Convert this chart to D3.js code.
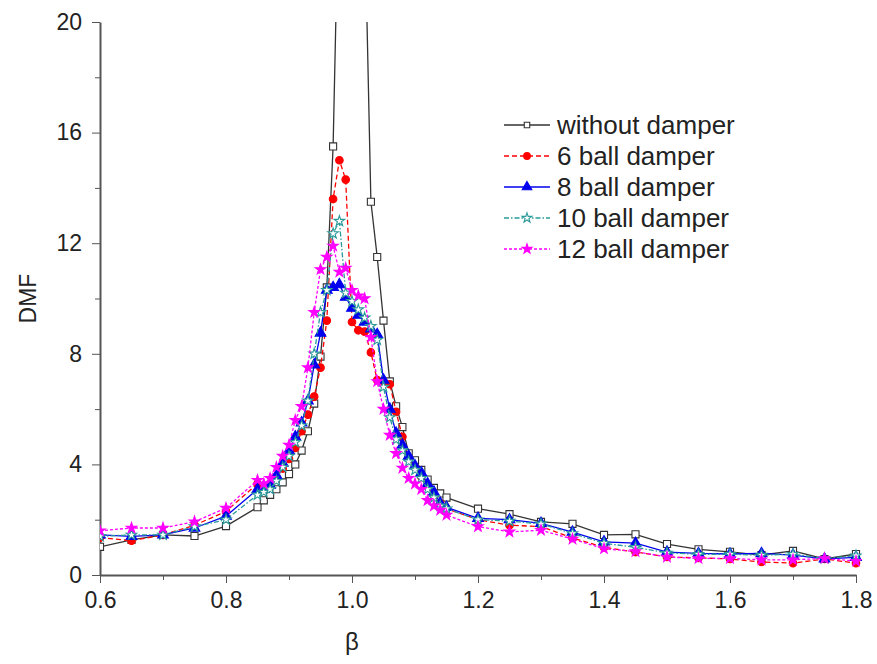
<!DOCTYPE html>
<html lang="en">
<head>
<meta charset="utf-8">
<title>DMF vs beta</title>
<style>
  body { margin: 0; background: #fff; }
  svg text { font-family: "Liberation Sans", Arial, sans-serif; fill: #222; }
  .axis path, .axis line { stroke: #555; }
</style>
</head>
<body>
<div id="chart"></div>
<script src="https://d3js.org/d3.v7.min.js"></script>
<script>
// frequency ratio values
var beta = [0.6, 0.65, 0.7, 0.75, 0.8, 0.85, 0.86, 0.87, 0.88, 0.89, 0.9, 0.91, 0.92, 0.93, 0.94, 0.95,
  0.96, 0.97, 0.98, 0.99, 1.0, 1.01, 1.02, 1.03, 1.04, 1.05, 1.06, 1.07, 1.08, 1.09, 1.1, 1.11, 1.12,
  1.13, 1.14, 1.15, 1.2, 1.25, 1.3, 1.35, 1.4, 1.45, 1.5, 1.55, 1.6, 1.65, 1.7, 1.75, 1.8];

var withoutDamper = [1.02, 1.27, 1.45, 1.41, 1.77, 2.45, 2.7, 2.9, 3.1, 3.35, 3.65, 4.0, 4.5, 5.2, 6.2, 7.9,
  10.4, 15.5, 26, 38, 45, 34, 24, 13.5, 11.5, 9.2, 7.0, 6.1, 5.35, 4.4, 4.15, 3.8, 3.45,
  3.15, 2.95, 2.8, 2.4, 2.2, 1.92, 1.85, 1.45, 1.47, 1.12, 0.93, 0.84, 0.72, 0.87, 0.58, 0.76];

var ball6 = [1.35, 1.24, 1.45, 1.8, 2.3, 3.3, 3.2, 3.3, 3.55, 3.85, 4.2, 4.6, 5.2, 5.8, 6.45, 7.5,
  9.2, 13.6, 15.0, 14.3, 9.15, 8.85, 8.8, 8.05, 7.05, 7.0, 6.9, 5.9, 5.0, 4.2, 3.9, 3.55, 3.2,
  2.9, 2.6, 2.4, 2.0, 1.8, 1.75, 1.34, 1.0, 0.83, 0.65, 0.62, 0.58, 0.47, 0.43, 0.58, 0.43];

var ball8 = [1.45, 1.4, 1.45, 1.7, 2.13, 3.1, 3.1, 3.25, 3.6, 4.05, 4.5, 5.0, 5.5, 6.3, 7.6, 8.75,
  10.3, 10.4, 10.5, 10.05, 9.65, 9.4, 9.15, 8.9, 8.7, 7.05, 6.0, 5.13, 4.7, 4.3, 3.95, 3.7, 3.3,
  3.0, 2.6, 2.45, 2.05, 2.0, 1.87, 1.55, 1.2, 1.15, 0.83, 0.78, 0.76, 0.78, 0.72, 0.58, 0.64];

var ball10 = [1.4, 1.45, 1.45, 1.75, 2.0, 2.9, 3.0, 3.1, 3.4, 3.9, 4.3, 4.8, 5.4, 6.3, 8.0, 9.5,
  10.3, 12.35, 12.8, 10.2, 9.9, 9.6, 9.3, 9.0, 8.5, 6.8, 5.7, 4.9, 4.5, 4.1, 3.8, 3.5, 3.1,
  2.8, 2.5, 2.4, 2.0, 1.95, 1.85, 1.5, 1.15, 1.0, 0.8, 0.75, 0.75, 0.72, 0.75, 0.6, 0.7];

var ball12 = [1.6, 1.7, 1.7, 1.93, 2.42, 3.43, 3.3, 3.5, 3.9, 4.3, 4.7, 5.6, 6.1, 7.5, 9.5, 11.05,
  11.5, 11.9, 10.96, 11.1, 10.3, 10.1, 10.0, 8.6, 7.0, 6.0, 5.06, 4.4, 3.87, 3.5, 3.3, 3.1, 2.7,
  2.5, 2.35, 2.17, 1.75, 1.56, 1.62, 1.3, 0.95, 0.85, 0.65, 0.6, 0.6, 0.55, 0.55, 0.6, 0.5];

var seriesNames = ['without damper', '6 ball damper', '8 ball damper', '10 ball damper', '12 ball damper'];
var xTicks = [0.6, 0.8, 1.0, 1.2, 1.4, 1.6, 1.8];
var yTicks = [0, 4, 8, 12, 16, 20];

var width = 877, height = 664;
var margin = {top: 22, right: 21, bottom: 89, left: 100};

var series = [
  {name: seriesNames[0], values: withoutDamper, color: '#333', dash: null, marker: 'square', fill: '#fff'},
  {name: seriesNames[1], values: ball6, color: '#f00', dash: '5,3', marker: 'circle', fill: '#f00'},
  {name: seriesNames[2], values: ball8, color: '#0000ee', dash: null, marker: 'triangle', fill: '#0000ee'},
  {name: seriesNames[3], values: ball10, color: '#2a9a9a', dash: '5,2,1.5,2', marker: 'star', fill: '#fff'},
  {name: seriesNames[4], values: ball12, color: '#ff00ff', dash: '3,2', marker: 'star', fill: '#ff00ff'}
];

function sym(type, size) { return d3.symbol().type(type).size(size); }
var symbols = {
  square: sym(d3.symbolSquare, 50),
  circle: sym(d3.symbolCircle, 45),
  triangle: sym(d3.symbolTriangle, 50),
  star: sym(d3.symbolStar, 34)
};
var legendSymbols = {
  square: sym(d3.symbolSquare, 30),
  circle: sym(d3.symbolCircle, 35),
  triangle: sym(d3.symbolTriangle, 40),
  star: sym(d3.symbolStar, 30)
};

var svg = d3.select('#chart').append('svg')
  .attr('width', width)
  .attr('height', height);

var x = d3.scaleLinear().domain([0.6, 1.8]).range([margin.left, width - margin.right]);
var y = d3.scaleLinear().domain([0, 20]).range([height - margin.bottom, margin.top]);

svg.append('clipPath').attr('id', 'plot-clip')
  .append('rect')
  .attr('x', margin.left)
  .attr('y', margin.top)
  .attr('width', width - margin.left - margin.right + 6)
  .attr('height', height - margin.top - margin.bottom + 6);

// axes: minor ticks first, then labelled major ticks
svg.append('g')
  .attr('class', 'axis')
  .attr('transform', 'translate(0,' + (height - margin.bottom) + ')')
  .call(d3.axisBottom(x).tickValues(d3.range(0.7, 1.8, 0.2)).tickSize(5).tickFormat(''))
  .call(function(g) { g.select('.domain').remove(); });

svg.append('g')
  .attr('class', 'axis')
  .attr('transform', 'translate(' + margin.left + ',0)')
  .call(d3.axisLeft(y).tickValues([2, 6, 10, 14, 18]).tickSize(5).tickFormat(''))
  .call(function(g) { g.select('.domain').remove(); });

var xAxis = svg.append('g')
  .attr('class', 'axis')
  .attr('transform', 'translate(0,' + (height - margin.bottom) + ')')
  .call(d3.axisBottom(x).tickValues(xTicks).tickSize(8).tickSizeOuter(0).tickPadding(9)
    .tickFormat(d3.format('.1f')));
xAxis.select('.domain').attr('stroke-width', 2);
xAxis.selectAll('text').style('font-size', '23px');

var yAxis = svg.append('g')
  .attr('class', 'axis')
  .attr('transform', 'translate(' + margin.left + ',0)')
  .call(d3.axisLeft(y).tickValues(yTicks).tickSize(8).tickSizeOuter(0).tickPadding(10));
yAxis.select('.domain').attr('stroke-width', 2);
yAxis.selectAll('text').style('font-size', '23px');

svg.append('text')
  .attr('x', x(1.0))
  .attr('y', height - 14)
  .attr('text-anchor', 'middle')
  .style('font-size', '24px')
  .text('β');

svg.append('text')
  .attr('transform', 'translate(36,' + y(10) + ') rotate(-90)')
  .attr('text-anchor', 'middle')
  .style('font-size', '23px')
  .text('DMF');

var plot = svg.append('g').attr('clip-path', 'url(#plot-clip)');

var line = d3.line()
  .x(function(d, i) { return x(beta[i]); })
  .y(function(d) { return y(d); });

series.forEach(function(s) {
  var g = plot.append('g');
  g.append('path')
    .attr('d', line(s.values))
    .attr('fill', 'none')
    .attr('stroke', s.color)
    .attr('stroke-width', 1.3)
    .attr('stroke-dasharray', s.dash);
  g.selectAll('path.pt')
    .data(s.values)
    .enter()
    .append('path')
    .attr('class', 'pt')
    .attr('d', symbols[s.marker])
    .attr('transform', function(d, i) { return 'translate(' + x(beta[i]) + ',' + y(d) + ')'; })
    .attr('fill', s.fill)
    .attr('stroke', s.color)
    .attr('stroke-width', 1.1);
});

// legend
var legend = svg.append('g').attr('transform', 'translate(504,125)');
series.forEach(function(s, i) {
  var row = legend.append('g').attr('transform', 'translate(0,' + (i * 31) + ')');
  row.append('line')
    .attr('x1', 0).attr('x2', 46)
    .attr('stroke', s.color)
    .attr('stroke-width', 1.3)
    .attr('stroke-dasharray', s.dash);
  row.append('path')
    .attr('d', legendSymbols[s.marker])
    .attr('transform', 'translate(23,0)')
    .attr('fill', s.fill)
    .attr('stroke', s.color)
    .attr('stroke-width', 1.1);
  row.append('text')
    .attr('x', 53)
    .attr('y', 9)
    .style('font-size', '26px')
    .text(s.name);
});
</script>
</body>
</html>
